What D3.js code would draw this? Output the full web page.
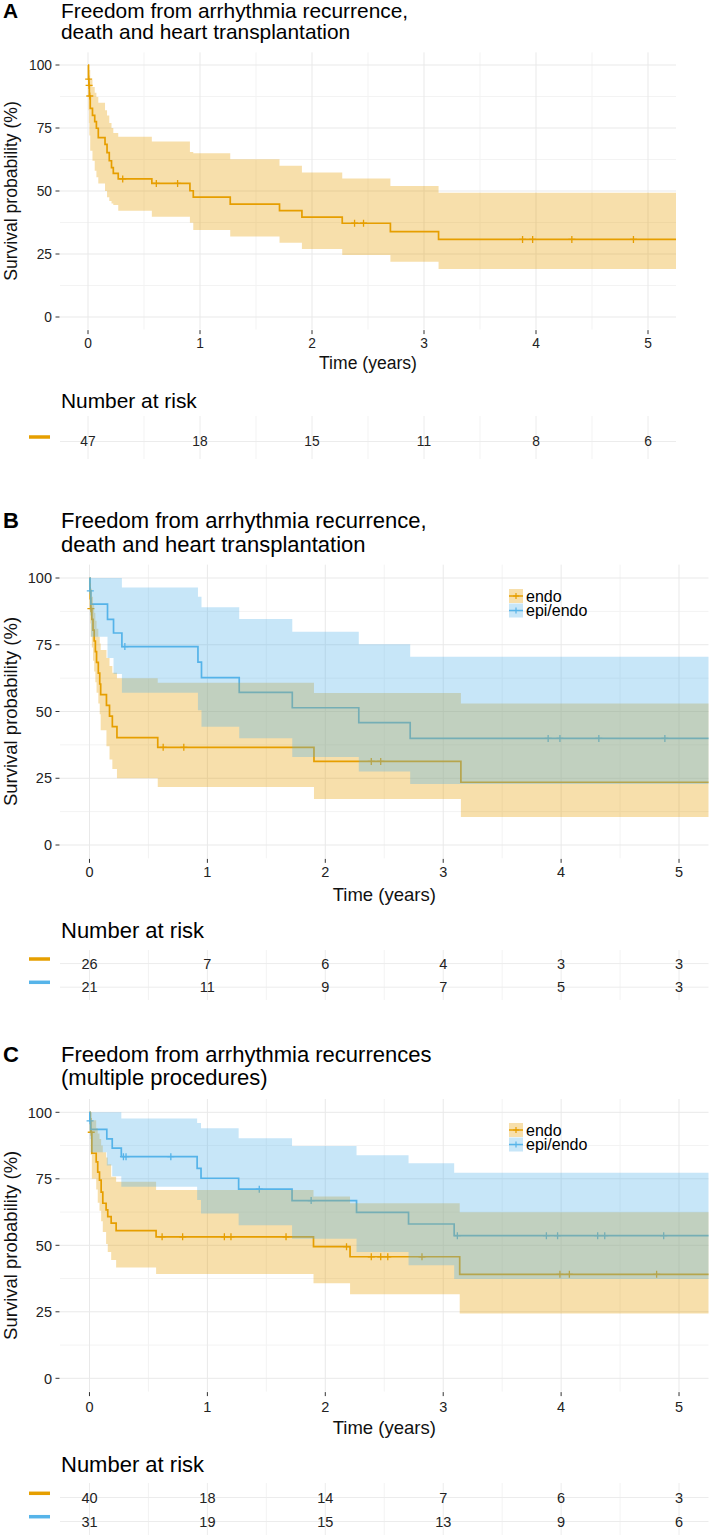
<!DOCTYPE html>
<html><head><meta charset="utf-8">
<script src="https://cdn.jsdelivr.net/npm/d3@7"></script>
<style>body{margin:0;background:#fff}svg{display:block;font-family:"Liberation Sans",Arial,Helvetica,sans-serif}</style>
</head><body><svg id="chart" width="709" height="1535"></svg>
<script>
// ---------- data ----------
const timeTicks = [0, 1, 2, 3, 4, 5];
const yTicks = [0, 25, 50, 75, 100];
const endTime = 5.25;
const groupNames = ["endo", "epi/endo"];

// Panel A (all patients)
const aTime  = [0, 0.004, 0.008, 0.012, 0.02, 0.04, 0.06, 0.075, 0.092, 0.152, 0.17, 0.19, 0.21, 0.226, 0.27, 0.57, 0.91, 0.94, 1.27, 1.71, 1.91, 2.27, 2.70, 3.13];
const aSurv  = [100, 94.4, 91.9, 87.7, 82.8, 80, 77.5, 74.9, 71.2, 68.5, 65.2, 62, 59.3, 57, 54.8, 53.0, 50.1, 47.6, 44.8, 42.2, 39.6, 37.2, 33.9, 30.8];
const aUpper = [100, 100, 100, 98, 94, 91.3, 89, 87.3, 85, 82, 80, 77, 75, 73, 71.5, 69.6, 65.5, 65, 62.6, 60, 57.3, 55, 52, 49.3];
const aLower = [100, 82, 77, 72, 66, 62, 58, 55.5, 53, 50, 47.5, 46, 45, 44.4, 42.2, 39.8, 37.4, 34.5, 31.9, 29.5, 27, 24.6, 21.9, 19];
const aCensor = [0.006, 0.010, 0.016, 0.31, 0.61, 0.80, 2.38, 2.46, 3.88, 3.97, 4.32, 4.87];
const aRisk = [47, 18, 15, 11, 8, 6];

// Panel B endo
const bEndoTime  = [0, 0.003, 0.006, 0.01, 0.02, 0.03, 0.04, 0.05, 0.06, 0.075, 0.087, 0.095, 0.144, 0.17, 0.194, 0.233, 0.579, 1.904, 3.15];
const bEndoSurv  = [100, 96.2, 92.3, 88.5, 84.5, 80.5, 76.4, 72.4, 68.4, 64.4, 60.3, 56.3, 52.3, 48.3, 44.3, 40.2, 36.6, 31.3, 23.5];
const bEndoUpper = [100, 100, 98, 96, 93, 90, 87, 84, 81, 78, 75.5, 73, 70, 67, 64.5, 62.5, 60.8, 56.9, 53];
const bEndoLower = [100, 89, 83, 78, 74, 69, 65, 61, 57, 53, 49, 43, 37, 32, 28.5, 25, 21.7, 17.2, 10.5];
const bEndoCensor = [0.012, 0.625, 0.80, 2.39, 2.47];
// Panel B epi/endo
const bEpiTime  = [0, 0.004, 0.012, 0.153, 0.204, 0.275, 0.92, 0.95, 1.27, 1.72, 2.284, 2.72];
const bEpiSurv  = [100, 95.2, 90.2, 84.5, 79.4, 74.3, 68.5, 62.7, 57.2, 51.4, 45.8, 39.9];
const bEpiUpper = [100, 100, 100, 100, 100, 96.4, 93, 89, 84.6, 79.9, 75.2, 70.5];
const bEpiLower = [100, 86, 78, 70, 64, 57, 50.5, 44.3, 40, 33, 27.5, 22.8];
const bEpiCensor = [0.007, 0.30, 3.89, 3.99, 4.32, 4.88];
const bRiskEndo = [26, 7, 6, 4, 3, 3];
const bRiskEpi  = [21, 11, 9, 7, 5, 3];

// Panel C endo
const cEndoTime  = [0, 0.005, 0.01, 0.02, 0.057, 0.07, 0.085, 0.099, 0.113, 0.141, 0.155, 0.184, 0.226, 0.565, 1.9, 2.21, 3.14];
const cEndoSurv  = [100, 97.5, 92.5, 84.6, 81.4, 77.5, 74.5, 70, 65.8, 63.3, 60.8, 58.3, 55.5, 53.2, 49.5, 45.7, 39.1];
const cEndoUpper = [100, 100, 100, 97, 94, 92, 90, 87.5, 85, 83, 80.5, 75.8, 73.9, 70.8, 68.3, 65.8, 62.4];
const cEndoLower = [100, 92, 84, 75, 71, 66, 63, 59, 55, 50.5, 47.5, 44.5, 41.7, 39.2, 35.7, 31.6, 24.4];
const cEndoCensor = [0.015, 0.616, 0.79, 1.144, 1.2, 1.667, 2.18, 2.39, 2.47, 2.53, 2.82, 3.99, 4.07, 4.81];
// Panel C epi/endo
const cEpiTime  = [0, 0.003, 0.01, 0.147, 0.193, 0.27, 0.913, 0.946, 1.265, 1.718, 2.265, 2.706, 3.093];
const cEpiSurv  = [100, 96.8, 93.6, 90, 86.5, 83.3, 78.9, 75.2, 71.1, 66.8, 62.4, 58, 53.6];
const cEpiUpper = [100, 100, 100, 100, 100, 97.7, 96, 94, 90.2, 87.3, 83.9, 80.8, 77.3];
const cEpiLower = [100, 90, 85, 80, 76, 72, 67, 62, 57.5, 52.5, 47.5, 42.5, 37.3];
const cEpiCensor = [0.005, 0.288, 0.31, 0.69, 1.44, 1.88, 3.12, 3.875, 3.97, 4.31, 4.37, 4.87];
const cRiskEndo = [40, 18, 14, 7, 6, 3];
const cRiskEpi  = [31, 19, 15, 13, 9, 6];

// ---------- drawing ----------
const ORANGE = "#E69F00", BLUE = "#56B4E9";
const FILL_OP = 0.33;
const svg = d3.select("#chart");

function mkSeries(time, surv, upper, lower, censor, color) {
  return {time, surv, upper, lower, censor, color};
}

const panels = [
  {letter: "A", title: ["Freedom from arrhythmia recurrence,", "death and heart transplantation"],
   s: 0.95, left: 60, right: 676, top: 52.4, bottom: 329.6, titleBase: [17.5, 39],
   tickBase: 348, xTitleBase: 369, narBase: 408, riskTop: 416, riskBottom: 459,
   rows: [441.5], dashY: [437],
   series: [mkSeries(aTime, aSurv, aUpper, aLower, aCensor, ORANGE)],
   risks: [aRisk], legend: null},
  {letter: "B", title: ["Freedom from arrhythmia recurrence,", "death and heart transplantation"],
   s: 1, left: 60, right: 708.5, top: 564.65, bottom: 858.35, titleBase: [528, 551.5],
   tickBase: 877, xTitleBase: 901, narBase: 938, riskTop: 950, riskBottom: 1000,
   rows: [963.6, 987.2], dashY: [959, 982.3],
   series: [mkSeries(bEndoTime, bEndoSurv, bEndoUpper, bEndoLower, bEndoCensor, ORANGE),
            mkSeries(bEpiTime, bEpiSurv, bEpiUpper, bEpiLower, bEpiCensor, BLUE)],
   risks: [bRiskEndo, bRiskEpi], legend: {x: 509, y: 589}},
  {letter: "C", title: ["Freedom from arrhythmia recurrences", "(multiple procedures)"],
   s: 1, left: 60, right: 708.5, top: 1099, bottom: 1391.6, titleBase: [1061.5, 1084.5],
   tickBase: 1411.5, xTitleBase: 1433.5, narBase: 1472.3, riskTop: 1483, riskBottom: 1535,
   rows: [1497.5, 1521.5], dashY: [1493.3, 1516.7],
   series: [mkSeries(cEndoTime, cEndoSurv, cEndoUpper, cEndoLower, cEndoCensor, ORANGE),
            mkSeries(cEpiTime, cEpiSurv, cEpiUpper, cEpiLower, cEpiCensor, BLUE)],
   risks: [cRiskEndo, cRiskEpi], legend: {x: 509, y: 1123}}
];

function stepVal(times, vals, t) {
  const i = d3.bisectRight(times, t) - 1;
  return vals[Math.max(0, i)];
}

panels.forEach(p => {
  const g = svg.append("g");
  const x = d3.scaleLinear().domain([-0.25, endTime]).range([p.left, p.right]);
  const y = d3.scaleLinear().domain([-5, 105]).range([p.bottom, p.top]);
  const s = p.s;
  const minorX = timeTicks.slice(0, -1).map(d => d + 0.5);
  const minorY = yTicks.slice(0, -1).map(d => d + 12.5);

  // grid
  g.selectAll(".mx").data(minorX).join("line")
    .attr("x1", d => x(d)).attr("x2", d => x(d)).attr("y1", p.top).attr("y2", p.bottom)
    .attr("stroke", "#f3f3f3").attr("stroke-width", 1);
  g.selectAll(".my").data(minorY).join("line")
    .attr("y1", d => y(d)).attr("y2", d => y(d)).attr("x1", p.left).attr("x2", p.right)
    .attr("stroke", "#f3f3f3").attr("stroke-width", 1);
  g.selectAll(".gx").data(timeTicks).join("line")
    .attr("x1", d => x(d)).attr("x2", d => x(d)).attr("y1", p.top).attr("y2", p.bottom)
    .attr("stroke", "#e9e9e9").attr("stroke-width", 1);
  g.selectAll(".gy").data(yTicks).join("line")
    .attr("y1", d => y(d)).attr("y2", d => y(d)).attr("x1", p.left).attr("x2", p.right)
    .attr("stroke", "#e9e9e9").attr("stroke-width", 1);

  // curves + censor marks
  const line = d3.line().curve(d3.curveStepAfter).x(d => x(d[0])).y(d => y(d[1]));
  p.series.forEach(se => {
    const pts = se.time.map((t, i) => [t, se.surv[i]]);
    pts.push([endTime, se.surv[se.surv.length - 1]]);
    g.append("path").attr("d", line(pts)).attr("fill", "none")
      .attr("stroke", se.color).attr("stroke-width", 1.7);
    g.selectAll(null).data(se.censor).join("path")
      .attr("d", t => {
        const cx = x(t), cy = y(stepVal(se.time, se.surv, t));
        return `M${cx - 3.5},${cy}h7M${cx},${cy - 3.5}v7`;
      })
      .attr("stroke", se.color).attr("stroke-width", 1.3).attr("fill", "none");
  });
  // confidence ribbons (drawn over lines, like the source)
  const area = d3.area().curve(d3.curveStepAfter).x(d => x(d[0])).y0(d => y(d[1])).y1(d => y(d[2]));
  p.series.forEach(se => {
    const pts = se.time.map((t, i) => [t, se.lower[i], se.upper[i]]);
    pts.push([endTime, se.lower[se.lower.length - 1], se.upper[se.upper.length - 1]]);
    g.append("path").attr("d", area(pts)).attr("fill", se.color).attr("fill-opacity", FILL_OP);
  });

  // axes ticks
  g.selectAll(".ty").data(yTicks).join("line")
    .attr("x1", p.left - 4.5).attr("x2", p.left - 0.5).attr("y1", d => y(d)).attr("y2", d => y(d))
    .attr("stroke", "#333").attr("stroke-width", 1);
  g.selectAll(".tyl").data(yTicks).join("text")
    .attr("x", p.left - 8).attr("y", d => y(d)).attr("dy", "0.36em").attr("text-anchor", "end")
    .attr("font-size", 14.5 * s).attr("fill", "#222").text(d => d);
  g.selectAll(".tx").data(timeTicks).join("line")
    .attr("x1", d => x(d)).attr("x2", d => x(d)).attr("y1", p.bottom + 0.5).attr("y2", p.bottom + 4.5)
    .attr("stroke", "#333").attr("stroke-width", 1);
  g.selectAll(".txl").data(timeTicks).join("text")
    .attr("x", d => x(d)).attr("y", p.tickBase).attr("text-anchor", "middle")
    .attr("font-size", 14.5 * s).attr("fill", "#222").text(d => d);

  // axis titles
  g.append("text").attr("x", (p.left + p.right) / 2).attr("y", p.xTitleBase)
    .attr("text-anchor", "middle").attr("font-size", 18.5 * s).attr("fill", "#111").text("Time (years)");
  const cy = (y(0) + y(100)) / 2;
  g.append("text").attr("transform", `translate(${16.5},${cy}) rotate(-90)`)
    .attr("text-anchor", "middle").attr("font-size", 18.5 * s).attr("fill", "#111")
    .text("Survival probability (%)");

  // titles
  g.append("text").attr("x", 3).attr("y", p.titleBase[0]).attr("font-size", 22 * s)
    .attr("font-weight", "bold").attr("fill", "#000").text(p.letter);
  p.title.forEach((t, i) => g.append("text").attr("x", 61).attr("y", p.titleBase[i])
    .attr("font-size", 22 * s).attr("fill", "#000").text(t));

  // legend
  if (p.legend) {
    p.series.forEach((se, i) => {
      const ky = p.legend.y + i * 14.5;
      const kg = g.append("g");
      kg.append("rect").attr("x", p.legend.x).attr("y", ky).attr("width", 14).attr("height", 14)
        .attr("fill", se.color).attr("fill-opacity", FILL_OP);
      kg.append("line").attr("x1", p.legend.x).attr("x2", p.legend.x + 14)
        .attr("y1", ky + 7).attr("y2", ky + 7).attr("stroke", se.color).attr("stroke-width", 1.5);
      kg.append("path").attr("d", `M${p.legend.x + 7 - 3},${ky + 7}h6M${p.legend.x + 7},${ky + 4}v6`)
        .attr("stroke", se.color).attr("stroke-width", 1.2);
      kg.append("text").attr("x", p.legend.x + 17).attr("y", ky + 7).attr("dy", "0.36em")
        .attr("font-size", 16).attr("fill", "#000").text(groupNames[i]);
    });
  }

  // risk table
  g.append("text").attr("x", 61).attr("y", p.narBase).attr("font-size", 22 * s).attr("fill", "#000")
    .text("Number at risk");
  const allX = timeTicks.concat(minorX);
  g.selectAll(".rv").data(allX).join("line")
    .attr("x1", d => x(d)).attr("x2", d => x(d)).attr("y1", p.riskTop).attr("y2", p.riskBottom)
    .attr("stroke", d => Number.isInteger(d) ? "#ececec" : "#f3f3f3").attr("stroke-width", 1);
  p.rows.forEach((ry, i) => {
    g.append("line").attr("x1", p.left).attr("x2", p.right).attr("y1", ry).attr("y2", ry)
      .attr("stroke", "#ececec").attr("stroke-width", 1);
    g.append("line").attr("x1", 29).attr("x2", 50).attr("y1", p.dashY[i]).attr("y2", p.dashY[i])
      .attr("stroke", p.series[i].color).attr("stroke-width", 3.5);
    g.selectAll(null).data(p.risks[i]).join("text")
      .attr("x", (d, j) => x(timeTicks[j])).attr("y", ry).attr("dy", "0.36em")
      .attr("text-anchor", "middle").attr("font-size", 14.5 * s).attr("fill", "#222").text(d => d);
  });
});
</script></body></html>
